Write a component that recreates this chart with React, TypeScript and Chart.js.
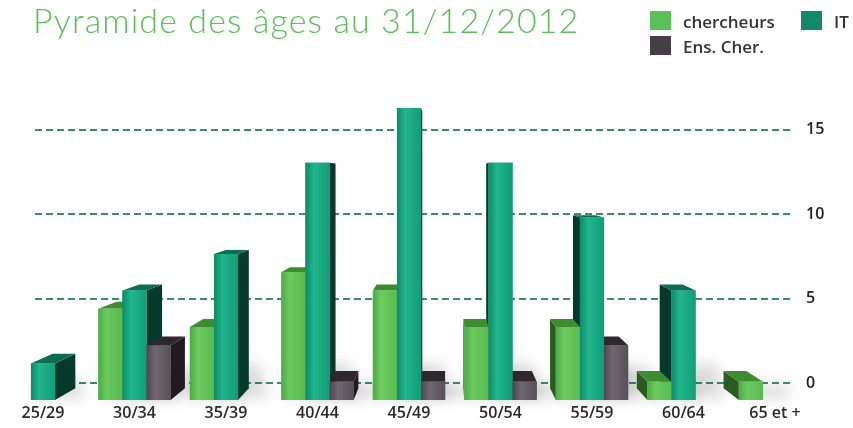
import React, { useEffect, useRef } from 'react';
import { Chart, registerables } from 'chart.js';

Chart.register(...registerables);

const TITLE = 'Pyramide des âges au 31/12/2012';
const CATEGORIES = ['25/29', '30/34', '35/39', '40/44', '45/49', '50/54', '55/59', '60/64', '65 et +'];
const SERIES_NAMES = ['chercheurs', 'IT', 'Ens. Cher.'];
const CHERCHEURS = [0, 5, 4, 7, 6, 4, 4, 1, 1];
const IT = [2, 6, 8, 13, 16, 13, 10, 6, 0];
const ENS_CHER = [0, 3, 0, 1, 1, 1, 3, 0, 0];
const Y_TICKS = [0, 5, 10, 15];

const PALETTE = [
  { legend: '#5cbf58', front: ['#4cab45', '#6dcb60', '#58ba4f'], top: '#3f8c30', side: '#2a5c1f' },
  { legend: '#13886b', front: ['#0d8a67', '#21b68d', '#129c77'], top: '#0e6c53', side: '#06392b' },
  { legend: '#463e47', front: ['#4e454f', '#70666f', '#585059'], top: '#2e272d', side: '#211b20' },
];

// perspective of the 3D look
const VP = { x: 445, y: 175 };
const DEPTH = 0.052;

const threeD = {
  id: 'threeD',
  beforeDatasetsDraw(chart: any) {
    const { ctx, chartArea } = chart;
    const y2 = chart.scales.y2;
    ctx.save();
    ctx.setLineDash([7, 4]);
    ctx.lineWidth = 2;
    ctx.strokeStyle = '#3b8a73';
    Y_TICKS.forEach((v) => {
      const py = Math.round(y2.getPixelForValue(v));
      ctx.beginPath();
      ctx.moveTo(chartArea.left - 8, py);
      ctx.lineTo(chartArea.right + 16, py);
      ctx.stroke();
    });
    ctx.restore();

    const items: any[] = [];
    chart.data.datasets.forEach((ds: any, di: number) => {
      const meta = chart.getDatasetMeta(di);
      meta.data.forEach((bar: any) => {
        const p = bar.getProps(['x', 'y', 'base', 'width'], true);
        if (Math.abs(p.base - p.y) < 0.5) return;
        items.push({ di, ...p });
      });
    });
    items.sort((a, b) => Math.abs(b.x - VP.x) - Math.abs(a.x - VP.x));
    const back = (x: number, y: number) => [x + (VP.x - x) * DEPTH, y + (VP.y - y) * DEPTH];
    const poly = (pts: number[][], color: string) => {
      ctx.beginPath();
      ctx.moveTo(pts[0][0], pts[0][1]);
      for (let i = 1; i < pts.length; i++) ctx.lineTo(pts[i][0], pts[i][1]);
      ctx.closePath();
      ctx.fillStyle = color;
      ctx.fill();
    };
    ctx.save();
    // soft floor shadows
    ctx.filter = 'blur(7px)';
    ctx.fillStyle = 'rgba(60,60,60,0.18)';
    for (const it of items) {
      const L = it.x - it.width / 2, R = it.x + it.width / 2;
      const T = Math.min(it.y, it.base), B = Math.max(it.y, it.base);
      const h = Math.min(B - T, 60);
      ctx.beginPath();
      ctx.moveTo(L + 4, B - 2);
      ctx.lineTo(R + 30, B - 2);
      ctx.lineTo(R + 22, B - h * 0.5 - 6);
      ctx.lineTo(L + 8, B - h * 0.5 - 6);
      ctx.closePath();
      ctx.fill();
    }
    ctx.filter = 'none';
    for (const it of items) {
      const L = it.x - it.width / 2, R = it.x + it.width / 2;
      const T = Math.min(it.y, it.base), B = Math.max(it.y, it.base);
      const pal = PALETTE[it.di];
      if (VP.x > R) poly([[R, T], [R, B], back(R, B), back(R, T)], pal.side);
      else if (VP.x < L) poly([[L, T], [L, B], back(L, B), back(L, T)], pal.side);
      if (VP.y < T) poly([[L, T], [R, T], back(R, T), back(L, T)], pal.top);
    }
    ctx.restore();
  },
  afterDatasetsDraw(chart: any) {
    const { ctx } = chart;
    ctx.save();
    chart.data.datasets.forEach((ds: any, di: number) => {
      const meta = chart.getDatasetMeta(di);
      const pal = PALETTE[di];
      meta.data.forEach((bar: any) => {
        const p = bar.getProps(['x', 'y', 'base', 'width'], true);
        if (Math.abs(p.base - p.y) < 0.5) return;
        const L = p.x - p.width / 2, R = p.x + p.width / 2;
        const T = Math.min(p.y, p.base), B = Math.max(p.y, p.base);
        const g = ctx.createLinearGradient(L, 0, R, 0);
        g.addColorStop(0, pal.front[0]);
        g.addColorStop(0.35, pal.front[1]);
        g.addColorStop(1, pal.front[2]);
        ctx.fillStyle = g;
        ctx.fillRect(L, T, R - L, B - T);
      });
    });
    ctx.restore();
  },
};

const tickFont = { family: "'Open Sans', sans-serif", size: 16, weight: '600' as const };

export default function App() {
  const ref = useRef<HTMLCanvasElement | null>(null);
  useEffect(() => {
    if (!ref.current) return;
    const series = [CHERCHEURS, IT, ENS_CHER];
    const chart = new Chart(ref.current, {
      type: 'bar',
      data: {
        labels: CATEGORIES,
        datasets: series.map((d, i) => ({
          label: SERIES_NAMES[i],
          data: d,
          backgroundColor: PALETTE[i].legend,
          yAxisID: 'y',
          clip: false as any,
        })),
      },
      options: {
        animation: false,
        responsive: false,
        layout: { padding: { left: 43, right: 28, top: 60, bottom: 0 } },
        datasets: { bar: { categoryPercentage: 0.79, barPercentage: 1 } },
        plugins: { legend: { display: false }, title: { display: false }, tooltip: { enabled: false } },
        scales: {
          x: {
            offset: false,
            grid: { display: false, drawTicks: false },
            border: { display: false },
            ticks: { font: tickFont, color: '#2a2a2a', padding: 4, maxRotation: 0, autoSkip: false },
            afterFit: (s: any) => { s.height = 28; },
          },
          y: { display: false, min: 0, max: 18.63 },
          y2: {
            position: 'right',
            min: -1.008,
            max: 19.14,
            grid: { display: true, drawOnChartArea: false, drawTicks: true, tickLength: 28, tickColor: 'rgba(0,0,0,0)', color: 'rgba(0,0,0,0)' },
            border: { display: false },
            afterBuildTicks: (s: any) => { s.ticks = Y_TICKS.map((v) => ({ value: v })); },
            ticks: { font: tickFont, color: '#222', padding: 3 },
            afterFit: (s: any) => { s.width = 50; },
          },
        },
      } as any,
      plugins: [threeD],
    });
    return () => chart.destroy();
  }, []);

  const legendText: React.CSSProperties = {
    position: 'absolute', fontFamily: "'Open Sans', sans-serif", fontWeight: 600, fontSize: 17,
    lineHeight: '19px', color: '#333', whiteSpace: 'nowrap',
  };
  const box = (left: number, top: number, color: string): React.CSSProperties => ({
    position: 'absolute', left, top, width: 21, height: 19, background: color,
  });

  return (
    <div style={{ position: 'absolute', left: 0, top: 0, width: 853, height: 428, background: '#fff' }}>
      <canvas ref={ref} width={853} height={428} style={{ position: 'absolute', left: 0, top: 0, display: 'block' }} />
      <div style={{ position: 'absolute', left: 33, top: 3, fontFamily: 'Lato, sans-serif', fontWeight: 300, fontSize: 34, lineHeight: '34px', letterSpacing: '1.1px', color: '#5cbd5a', whiteSpace: 'nowrap' }}>{TITLE}</div>
      <div style={box(650, 11, PALETTE[0].legend)} />
      <div style={{ ...legendText, left: 683, top: 12 }}>{SERIES_NAMES[0]}</div>
      <div style={box(801, 11, PALETTE[1].legend)} />
      <div style={{ ...legendText, left: 834, top: 12 }}>{SERIES_NAMES[1]}</div>
      <div style={box(650, 36, PALETTE[2].legend)} />
      <div style={{ ...legendText, left: 683, top: 37 }}>{SERIES_NAMES[2]}</div>
    </div>
  );
}
